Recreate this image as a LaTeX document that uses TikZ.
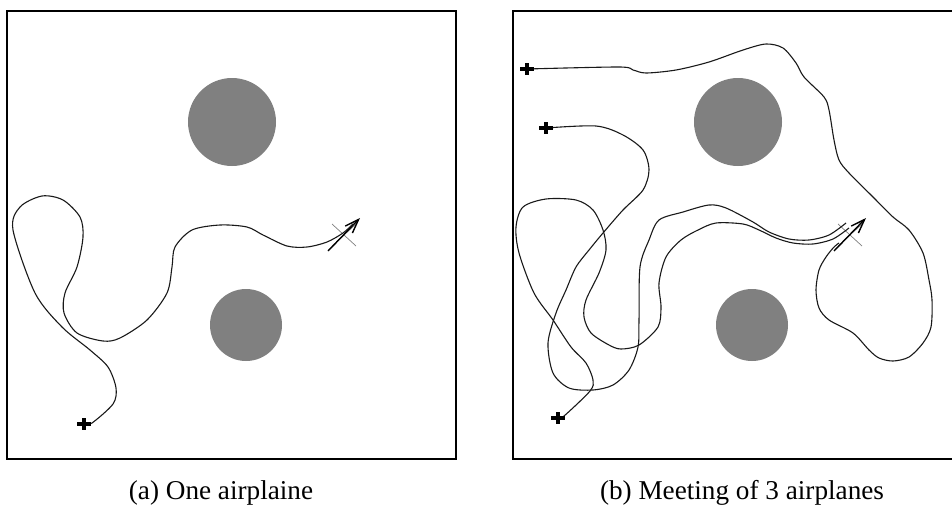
\documentclass[tikz,border=0pt]{standalone}
\usepackage{fontspec}
\setmainfont{Liberation Serif}
\usetikzlibrary{arrows.meta}

% start of a flight: a thick cross
\newcommand{\startmark}[1]{\draw[startmk] (#1) +(-7,0) -- +(7,0) +(0,-6) -- +(0,6);}

% the meeting point and its heading
\newcommand{\meeting}{%
  \coordinate (goal) at (337,224);
  \coordinate (tail) at (321,240);
  \coordinate (tip) at (353,207);
  \draw[goalmk] (goal) +(-12,-11) -- +(12,11) +(-12,11) -- +(12,-11);
  \draw[-{Straight Barb[length=7pt,width=5pt]}, line width=0.7pt] (tail) -- (tip);
  \fill[obstacle] (225,111) circle [radius=44];
  \fill[obstacle] (239,314) circle [radius=36];
}

\begin{document}
\begin{tikzpicture}[x=0.5pt, y=-0.5pt,
    frame/.style={line width=0.9pt},
    obstacle/.style={fill=gray},
    route/.style={line width=0.55pt, black!90},
    startmk/.style={line width=1.6pt},
    goalmk/.style={line width=0.35pt, gray},
    caption/.style={font=\fontsize{13.6}{16}\selectfont, anchor=base}]
  \useasboundingbox (0,0) rectangle (952,504);

  % (a) one airplane
  \begin{scope}[shift={(7,11)}]
    \draw[frame] (0,0) rectangle (449,448);
    \meeting
    \coordinate (startA) at (77,413);
    \draw[route] plot[smooth] coordinates {(startA) (85,412) (106,393) (109,377) (101,356)
      (83,339) (55,316) (28,282) (6,219) (13,196) (35,185) (56,189) (73,206) (76,226)
      (70,256) (58,282) (57,302) (70,322) (96,330) (113,327) (140,309) (160,282)
      (165,256) (168,236) (185,219) (213,214) (240,216) (256,224) (280,235) (300,236)
      (320,231) (336,222) (346,213)};
    \startmark{startA}
  \end{scope}

  % (b) three airplanes, the frame runs past the right edge
  \begin{scope}[shift={(513,11)}]
    \draw[frame] (439,0) -- (0,0) -- (0,448) -- (439,448);
    \meeting
    \coordinate (startB) at (14,58);
    \coordinate (startC) at (33,117);
    \coordinate (startD) at (45,407);
    % upper one
    \draw[route] plot[smooth] coordinates {(startB) (106,56) (120,59) (133,62) (163,59)
      (196,51) (230,39) (253,33) (270,37) (283,52) (291,66) (311,86) (316,99) (321,129)
      (326,149) (336,162) (360,186) (380,206) (396,219) (410,242) (416,269) (419,289)
      (418,316) (410,332) (396,346) (380,350) (366,347) (356,339) (340,322) (316,309)
      (306,297) (303,279) (306,259) (313,246) (321,236) (326,232)};
    % middle one
    \draw[route] plot[smooth] coordinates {(startC) (83,115) (110,124) (130,139) (136,159)
      (130,179) (110,199) (90,222) (76,239) (63,256) (53,279) (43,302) (35,332) (40,362)
      (56,377) (80,379) (100,374) (116,359) (125,336) (126,309) (127,256) (136,229)
      (146,209) (170,201) (196,194) (213,197) (240,211) (256,221) (276,228) (296,229)
      (316,224) (333,212)};
    % lower one
    \draw[route] plot[smooth] coordinates {(startD) (51,405) (77,380) (80,369) (73,352)
      (58,336) (40,309) (21,282) (6,242) (3,216) (10,196) (33,188) (63,189) (80,199)
      (90,219) (93,239) (86,262) (73,289) (71,306) (78,322) (96,334) (108,338)
      (126,334) (145,316) (148,296) (146,272) (153,246) (168,229) (185,219) (203,212)
      (230,213) (246,219) (263,227) (280,232) (300,233) (320,228) (336,217)};
    \startmark{startB}
    \startmark{startC}
    \startmark{startD}
  \end{scope}

  \node[caption] (capA) at (221,499) {(a) One airplaine};
  \node[caption] (capB) at (742,499) {(b) Meeting of 3 airplanes};
\end{tikzpicture}
\end{document}
